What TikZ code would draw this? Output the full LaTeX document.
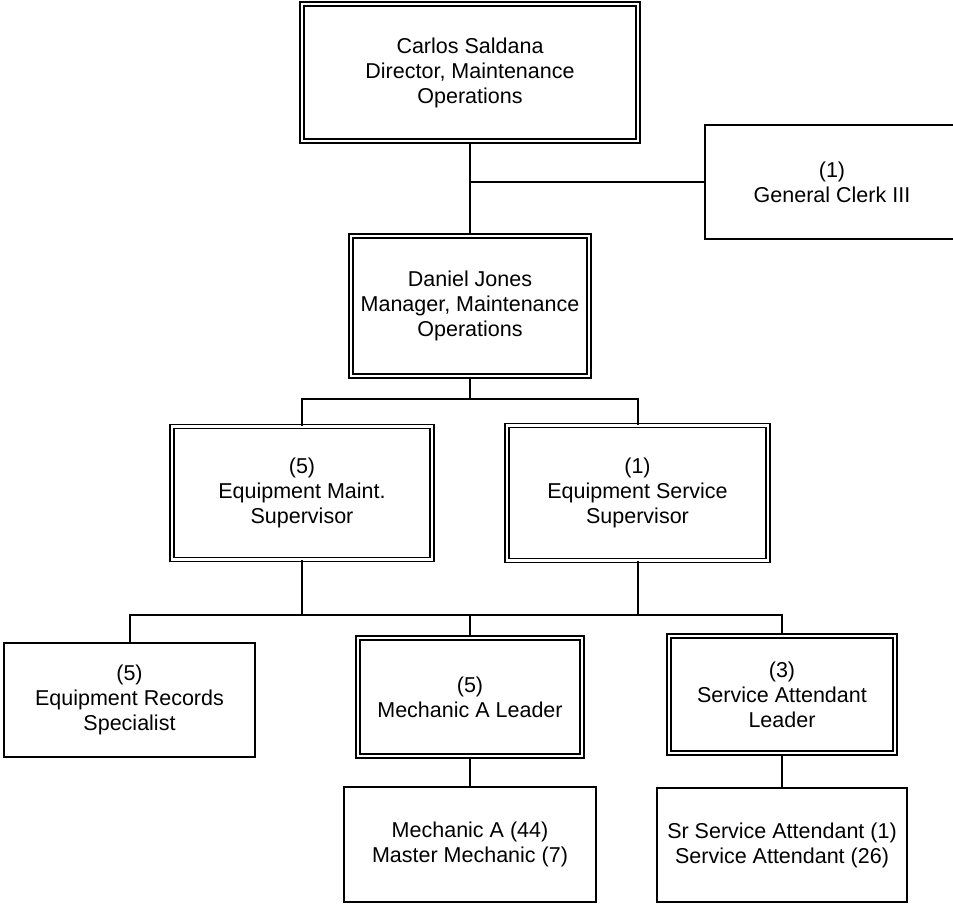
\documentclass[tikz,border=0pt]{standalone}
\usepackage{fontspec}
\setmainfont{Liberation Sans}
\begin{document}
\begin{tikzpicture}[x=1pt,y=-1pt,
  every node/.style={align=center,inner sep=0pt,font=\fontsize{21.5pt}{25pt}\selectfont},
  single/.style={draw,line width=2pt,rectangle},
  dbl/.style={draw,rectangle,line width=1.7pt,double,double distance=2.4pt},
  conn/.style={line width=2pt}]
\useasboundingbox (0,0) rectangle (953,903);
\begin{scope}
\clip (0,0) rectangle (953,903);
\node[dbl,minimum width=335.5pt,minimum height=136.5pt] (carlos) at (470,72.5) {Carlos Saldana\\Director, Maintenance\\Operations};
\node[single,minimum width=254pt,minimum height=114pt] (clerk) at (832,182) {(1)\\General Clerk III};
\node[dbl,minimum width=237.5pt,minimum height=139.5pt] (daniel) at (470,306) {Daniel Jones\\Manager, Maintenance\\Operations};
\node[dbl,minimum width=259.5pt,minimum height=133pt] (maint) at (302,493) {(5)\\Equipment Maint.\\Supervisor};
\node[dbl,minimum width=260.5pt,minimum height=135pt] (service) at (637.5,493) {(1)\\Equipment Service\\Supervisor};
\node[single,minimum width=251pt,minimum height=114pt] (records) at (129.5,700) {(5)\\Equipment Records\\Specialist};
\node[dbl,minimum width=223.5pt,minimum height=117.5pt] (mleader) at (470,697) {(5)\\Mechanic A Leader};
\node[dbl,minimum width=225.5pt,minimum height=117.5pt] (sleader) at (782,694.5) {(3)\\Service Attendant\\Leader};
\node[single,minimum width=252pt,minimum height=115pt] (mecha) at (470,844.5) {Mechanic A (44)\\Master Mechanic (7)};
\node[single,minimum width=250pt,minimum height=114pt] (srsa) at (782,845) {Sr Service Attendant (1)\\Service Attendant (26)};
\end{scope}

\coordinate (j1) at (carlos.south |- clerk.west);
\draw[conn] (carlos.south) -- (daniel.north);
\draw[conn] (j1) -- (clerk.west);

\coordinate (b2) at (470,399);
\draw[conn] (daniel.south) -- (b2);
\draw[conn] (maint.north) -- (maint.north |- b2) -- (service.north |- b2) -- (service.north);

\coordinate (b3) at (470,615);
\draw[conn] (maint.south) -- (maint.south |- b3);
\draw[conn] (service.south) -- (service.south |- b3);
\draw[conn] (records.north) -- (records.north |- b3) -- (sleader.north |- b3) -- (sleader.north);
\draw[conn] (b3) -- (mleader.north);
\draw[conn] (mleader.south) -- (mecha.north);
\draw[conn] (sleader.south) -- (srsa.north);
\end{tikzpicture}
\end{document}
